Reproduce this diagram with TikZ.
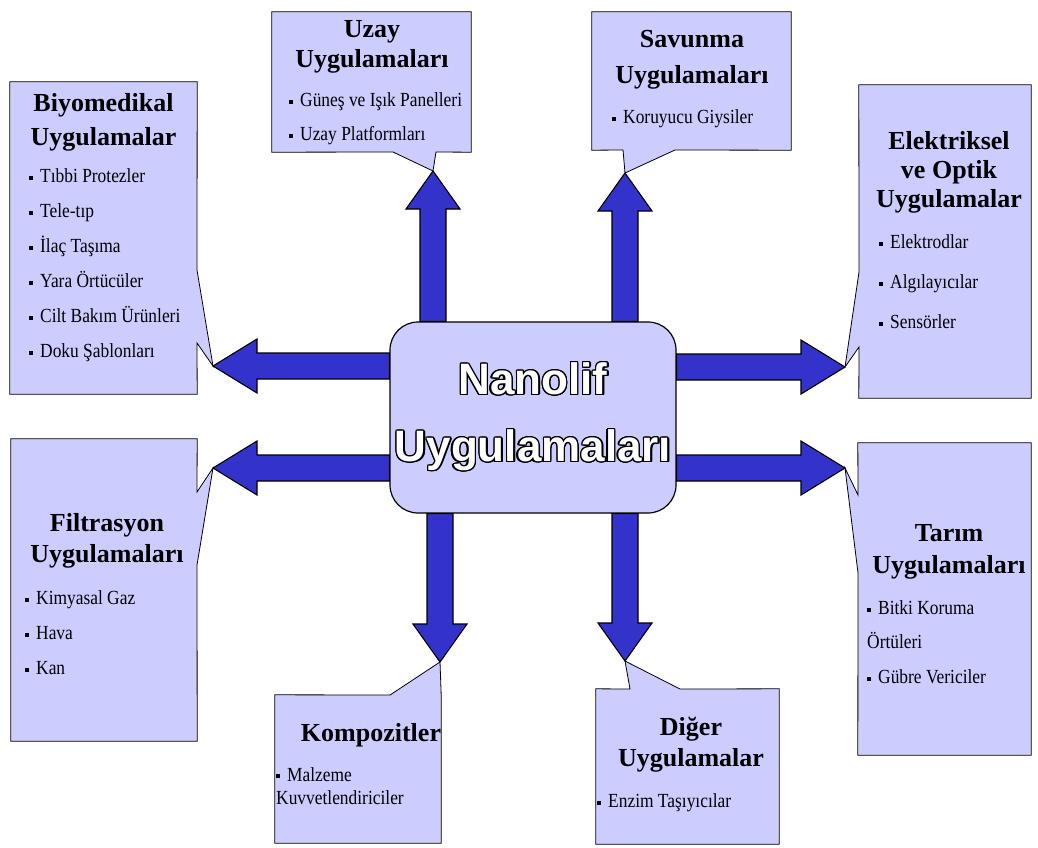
\documentclass[tikz,border=0pt]{standalone}
\usepackage{fontspec}
\setmainfont{Liberation Serif}
\newfontfamily\itemfont[FakeStretch=0.87]{Liberation Serif}
\newfontfamily\nanofont{Liberation Sans}
\usepackage{contour}
\contourlength{1.4pt}
\usepackage{tikz}
\usetikzlibrary{calc,backgrounds}
\definecolor{lavender}{HTML}{CCCCFF}
\definecolor{arrowblue}{HTML}{3333CC}

\newcommand\bul{\raisebox{0.3ex}{\rule{0.2em}{0.2em}}\hspace{0.35em}}
% block arrow: [head length] {start} {tip}
\newcommand\fatarrow[3][40]{%
  \coordinate (hb) at ($(#3)!#1pt!(#2)$);
  \draw[blockarrow] ($(#2)!13pt!90:(#3)$) -- ($(hb)!13pt!90:(#3)$) -- ($(hb)!27pt!90:(#3)$)
    -- (#3) -- ($(hb)!27pt!-90:(#3)$) -- ($(hb)!13pt!-90:(#3)$) -- ($(#2)!13pt!-90:(#3)$) -- cycle;
}

\begin{document}
\begin{tikzpicture}[x=1pt, y=-1pt,
  box/.style n args={2}{rectangle, inner sep=0pt, minimum width=#1, minimum height=#2},
  callout/.style={fill=lavender, draw=black, line width=0.8pt},
  blockarrow/.style={fill=arrowblue, draw=black, line width=1.1pt, line join=miter},
  nanobox/.style={rectangle, rounded corners=28pt, fill=lavender, draw=black, line width=1.2pt,
                  minimum width=286pt, minimum height=191pt, text=white, align=center,
                  font=\nanofont\bfseries\fontsize{44}{67}\selectfont},
  ttl/.style={inner sep=0pt, align=center, font=\bfseries\fontsize{26}{#1}\selectfont},
  ttl/.default=32,
  itm/.style={inner sep=0pt, anchor=west, align=left, font=\itemfont\fontsize{20}{#1}\selectfont},
  itm/.default=35
]
\useasboundingbox (0,0) rectangle (1038,847);

\node[nanobox] (nano) at (533,417.5) {\contour{black}{Nanolif}\\\contour{black}{Uygulamaları}};

% callout boxes
\node[box={187pt}{312pt}] (bio)   at (103.5,238)  {};
\node[box={199pt}{140pt}] (uzay)  at (371.5,82)   {};
\node[box={199pt}{138pt}] (sav)   at (691.5,81)   {};
\node[box={172pt}{313pt}] (elek)  at (945,241.5)  {};
\node[box={186pt}{302pt}] (filt)  at (104,590)    {};
\node[box={173pt}{312pt}] (tarim) at (944.5,599)  {};
\node[box={166pt}{148pt}] (komp)  at (358,769)    {};
\node[box={183pt}{155pt}] (diger) at (687.5,766.5) {};

% arrow tips
\coordinate (tUzay)  at (433,171);
\coordinate (tSav)   at (625,173);
\coordinate (tBio)   at (213,366);
\coordinate (tFilt)  at (213,468);
\coordinate (tElek)  at (845,367);
\coordinate (tTarim) at (845,468);
\coordinate (tKomp)  at (440,662);
\coordinate (tDig)   at (625,661);

\coordinate (sUzay)  at (nano.north -| tUzay);
\coordinate (sSav)   at (nano.north -| tSav);
\coordinate (sBio)   at (nano.west |- tBio);
\coordinate (sFilt)  at (nano.west |- tFilt);
\coordinate (sElek)  at (nano.east |- tElek);
\coordinate (sTarim) at (nano.east |- tTarim);
\coordinate (sKomp)  at (nano.south -| tKomp);
\coordinate (sDig)   at (nano.south -| tDig);

\begin{scope}[on background layer]
\draw[callout] (bio.north west) -- (bio.north east) -- (197,270) -- (tBio) -- (197,343)
  -- (bio.south east) -- (bio.south west) -- cycle;
\draw[callout] (uzay.north west) -- (uzay.north east) -- (uzay.south east) -- (436,152)
  -- (tUzay) -- (393,152) -- (uzay.south west) -- cycle;
\draw[callout] (sav.north west) -- (sav.north east) -- (sav.south east) -- (675,150)
  -- (tSav) -- (623,150) -- (sav.south west) -- cycle;
\draw[callout] (elek.north west) -- (elek.north east) -- (elek.south east) -- (elek.south west)
  -- (859,347) -- (tElek) -- (859,272) -- cycle;
\draw[callout] (filt.north west) -- (filt.north east) -- (197,492) -- (tFilt) -- (197,565)
  -- (filt.south east) -- (filt.south west) -- cycle;
\draw[callout] (tarim.north west) -- (tarim.north east) -- (tarim.south east) -- (tarim.south west)
  -- (858,573) -- (tTarim) -- (858,495) -- cycle;
\draw[callout] (komp.north west) -- (390,695) -- (tKomp) -- (komp.north east)
  -- (komp.south east) -- (komp.south west) -- cycle;
\draw[callout] (diger.north west) -- (630,689) -- (tDig) -- (680,689) -- (diger.north east)
  -- (diger.south east) -- (diger.south west) -- cycle;
\end{scope}

\fatarrow[38]{sUzay}{tUzay}
\fatarrow[38]{sSav}{tSav}
\fatarrow[44]{sBio}{tBio}
\fatarrow[44]{sFilt}{tFilt}
\fatarrow[44]{sElek}{tElek}
\fatarrow[44]{sTarim}{tTarim}
\fatarrow[38]{sKomp}{tKomp}
\fatarrow[38]{sDig}{tDig}

% texts
\node[ttl=34] (bioT) at (103.5,122) {Biyomedikal\\Uygulamalar};
\node[itm=35] (bioL) at (29,265) {\bul Tıbbi Protezler\\\bul Tele-tıp\\\bul İlaç Taşıma\\\bul Yara Örtücüler\\\bul Cilt Bakım Ürünleri\\\bul Doku Şablonları};

\node[ttl=30] (uzayT) at (372,47) {Uzay\\Uygulamaları};
\node[itm=34] (uzayL) at (289,119) {\bul Güneş ve Işık Panelleri\\\bul Uzay Platformları};

\node[ttl=36] (savT) at (692,60) {Savunma\\Uygulamaları};
\node[itm] (savL) at (612,119) {\bul Koruyucu Giysiler};

\node[ttl=29] (elekT) at (949,172) {Elektriksel\\ve Optik\\Uygulamalar};
\node[itm=40] (elekL) at (879,282) {\bul Elektrodlar\\\bul Algılayıcılar\\\bul Sensörler};

\node[ttl=31] (filtT) at (107,541) {Filtrasyon\\Uygulamaları};
\node[itm=35] (filtL) at (25,633) {\bul Kimyasal Gaz\\\bul Hava\\\bul Kan};

\node[ttl=32] (tarimT) at (949,551.5) {Tarım\\Uygulamaları};
\node[itm=34.5] (tarimL) at (867,642) {\bul Bitki Koruma\\Örtüleri\\\bul Gübre Vericiler};

\node[ttl] (kompT) at (371,735) {Kompozitler};
\node[itm=23.5] (kompL) at (276,786) {\bul Malzeme\\Kuvvetlendiriciler};

\node[ttl=31] (digerT) at (691,745) {Diğer\\Uygulamalar};
\node[itm] (digerL) at (597,803) {\bul Enzim Taşıyıcılar};
\end{tikzpicture}
\end{document}
